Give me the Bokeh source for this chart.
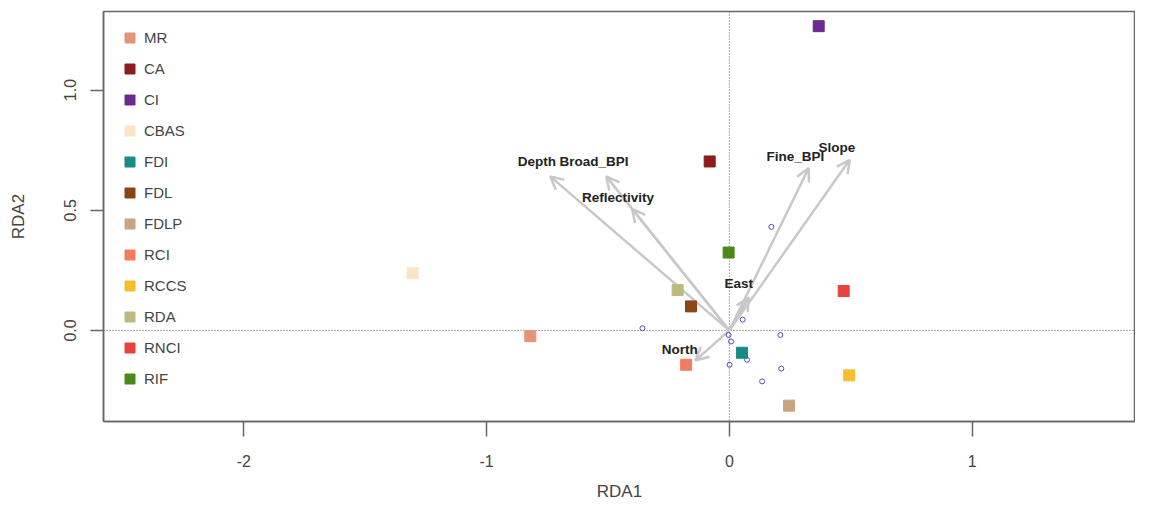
from bokeh.plotting import figure
from bokeh.models import (ColumnDataSource, Span, Arrow, OpenHead, Legend, LegendItem,
                          FixedTicker, PrintfTickFormatter, Range1d)
from bokeh.embed import file_html
from bokeh.resources import INLINE
from bokeh.core.properties import value

# ---- data ----
groups = ["MR", "CA", "CI", "CBAS", "FDI", "FDL", "FDLP", "RCI", "RCCS", "RDA", "RNCI", "RIF"]
group_x = [-0.820, -0.081, 0.368, -1.305, 0.052, -0.158, 0.246, -0.178, 0.494, -0.213, 0.471, -0.003]
group_y = [-0.024, 0.703, 1.266, 0.238, -0.093, 0.100, -0.313, -0.143, -0.187, 0.168, 0.164, 0.324]
group_colors = ["#E4937A", "#8E1B1E", "#6B2A90", "#FBE4C6", "#1A8A87", "#8B4513",
                "#C9A47E", "#F27C5E", "#F7BD2E", "#BDBB7B", "#E8423F", "#4A8A1C"]

site_x = [0.173, 0.055, -0.358, -0.003, 0.007, 0.073, 0.210, 0.001, 0.214, 0.135]
site_y = [0.431, 0.045, 0.009, -0.019, -0.046, -0.122, -0.019, -0.143, -0.159, -0.212]

env_names = ["Depth", "Broad_BPI", "Reflectivity", "Fine_BPI", "Slope", "East", "North"]
env_x = [-0.738, -0.507, -0.401, 0.327, 0.496, 0.080, -0.140]
env_y = [0.641, 0.641, 0.506, 0.676, 0.710, 0.137, -0.125]
env_label_x = [-0.793, -0.558, -0.459, 0.272, 0.443, 0.039, -0.204]
env_label_y = [0.703, 0.703, 0.552, 0.723, 0.762, 0.197, -0.080]

x_ticks = [-2, -1, 0, 1]
y_ticks = [0.0, 0.5, 1.0]

FONT = "Liberation Sans"
AXIS_COL = "#666666"
TEXT_COL = "#444444"

p = figure(width=1135, height=503, output_backend="svg", toolbar_location=None,
           x_range=Range1d(-2.578, 1.673), y_range=Range1d(-0.379, 1.327),
           min_border_left=103, min_border_top=11, min_border_right=0, min_border_bottom=80)
p.xgrid.visible = False
p.ygrid.visible = False
p.outline_line_color = AXIS_COL
p.outline_line_width = 1.5
p.background_fill_color = "white"

# dotted zero lines
p.add_layout(Span(location=0, dimension="width", line_color="#555555", line_width=1,
                  line_dash="1 2", level="underlay"))
p.add_layout(Span(location=0, dimension="height", line_color="#555555", line_width=1,
                  line_dash="1 2", level="underlay"))

# sites (small open circles)
p.scatter(site_x, site_y, marker="circle", size=5, fill_color=None,
          line_color="#5050B0", line_width=1)

# environmental arrows
env_src = ColumnDataSource(dict(x=env_x, y=env_y, lx=env_label_x, ly=env_label_y, name=env_names))
arrow = Arrow(end=OpenHead(size=13, line_color="#C8C8C8", line_width=2.5),
              x_start=0, y_start=0, x_end="x", y_end="y", source=env_src,
              line_color="#C8C8C8", line_width=2.5, level="underlay")
p.add_layout(arrow)

# group centroids (squares)
grp_src = ColumnDataSource(dict(x=group_x, y=group_y, color=group_colors, name=groups))
r = p.scatter("x", "y", marker="square", size=11, fill_color="color", line_color="color",
              source=grp_src)

# arrow labels
p.text("lx", "ly", text="name", source=env_src, text_font=value(FONT), text_font_style="bold",
       text_font_size="13.5px", text_align="center", text_baseline="middle", text_color="#222222")

# legend
items = [LegendItem(label=g, renderers=[r], index=i) for i, g in enumerate(groups)]
legend = Legend(items=items, location="top_left", margin=14, padding=10,
                border_line_color=None, background_fill_alpha=0,
                glyph_width=25, glyph_height=25, label_height=25, spacing=6,
                label_standoff=2, label_text_font=FONT, label_text_font_size="15px",
                label_text_color=TEXT_COL)
p.add_layout(legend)

# axes
p.xaxis.ticker = FixedTicker(ticks=x_ticks)
p.yaxis.ticker = FixedTicker(ticks=y_ticks)
p.xaxis.formatter = PrintfTickFormatter(format="%d")
p.yaxis.formatter = PrintfTickFormatter(format="%.1f")
p.yaxis.major_label_orientation = "vertical"
for ax in (p.xaxis, p.yaxis):
    ax.axis_line_color = AXIS_COL
    ax.axis_line_width = 1.5
    ax.major_tick_line_color = AXIS_COL
    ax.major_tick_line_width = 1.5
    ax.major_tick_in = 0
    ax.minor_tick_line_color = None
    ax.major_label_text_font = FONT
    ax.major_label_text_font_size = "16px"
    ax.major_label_text_color = TEXT_COL
    ax.axis_label_text_font = FONT
    ax.axis_label_text_font_size = "17px"
    ax.axis_label_text_font_style = "normal"
    ax.axis_label_text_color = TEXT_COL
p.xaxis.axis_label = "RDA1"
p.yaxis.axis_label = "RDA2"
p.xaxis.major_tick_out = 15
p.xaxis.major_label_standoff = 18
p.xaxis.axis_label_standoff = 12
p.yaxis.major_tick_out = 13
p.yaxis.major_label_standoff = 14
p.yaxis.axis_label_standoff = 34

open("out.html", "w").write(file_html(p, INLINE))
